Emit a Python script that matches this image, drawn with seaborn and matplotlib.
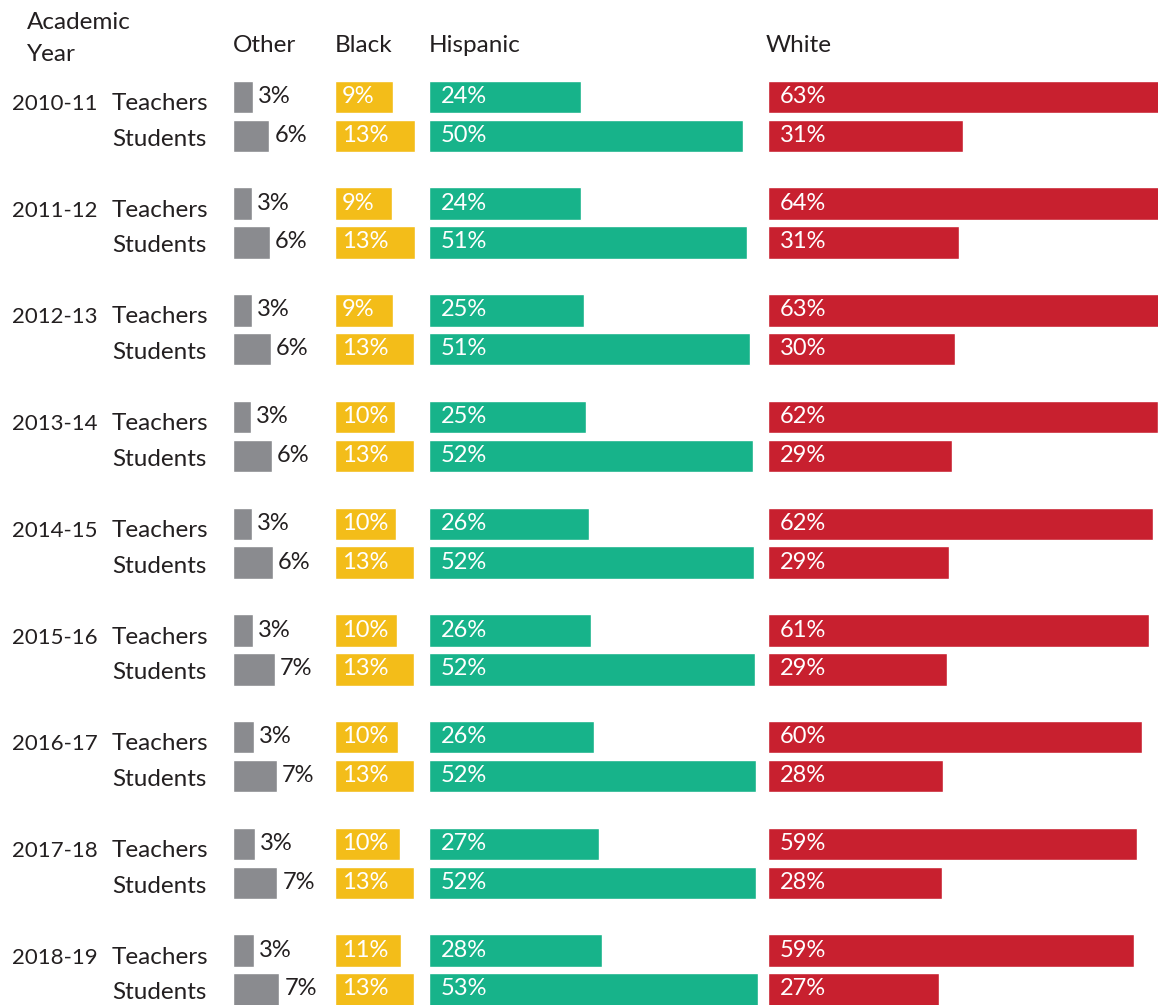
import pandas as pd
import numpy as np
import matplotlib.pyplot as plt
import seaborn as sns

sns.set_style("white")
plt.rcParams["font.family"] = ["Lato", "DejaVu Sans"]

years = ["2010-11", "2011-12", "2012-13", "2013-14", "2014-15",
         "2015-16", "2016-17", "2017-18", "2018-19"]
groups = ["Teachers", "Students"]
races = ["Other", "Black", "Hispanic", "White"]

other_teachers = [3.2, 3.0, 3.0, 2.9, 3.1, 3.2, 3.4, 3.45, 3.4]
other_students = [5.8, 5.9, 6.1, 6.2, 6.4, 6.7, 7.0, 7.1, 7.4]
black_teachers = [9.3, 9.1, 9.3, 9.6, 9.8, 9.9, 10.1, 10.4, 10.6]
black_students = [12.8, 12.8, 12.6, 12.6, 12.6, 12.6, 12.6, 12.6, 12.6]
hispanic_teachers = [24.3, 24.3, 24.8, 25.1, 25.6, 25.9, 26.4, 27.2, 27.6]
hispanic_students = [50.2, 50.9, 51.4, 51.8, 52.0, 52.2, 52.4, 52.3, 52.6]
white_teachers = [63.0, 64.0, 63.0, 62.4, 61.6, 61.0, 59.8, 59.0, 58.6]
white_students = [31.2, 30.6, 29.9, 29.4, 29.0, 28.6, 28.0, 27.8, 27.4]

colors = {"Other": "#8a8b8f", "Black": "#f3bd19",
          "Hispanic": "#17b38a", "White": "#c8202f"}
dark = "#231f20"

series = {
    ("Other", "Teachers"): other_teachers, ("Other", "Students"): other_students,
    ("Black", "Teachers"): black_teachers, ("Black", "Students"): black_students,
    ("Hispanic", "Teachers"): hispanic_teachers, ("Hispanic", "Students"): hispanic_students,
    ("White", "Teachers"): white_teachers, ("White", "Students"): white_students,
}

W, H = 1158, 1005
px_per_pct = 6.25
first_center = 97.0   # pixel centre of the first Teachers bar
year_px = 106.7       # pixels from one year to the next
unit = 38.8           # pixels between Teachers and Students rows
bar_px = 32.4

# row positions: 1 unit = gap between teachers / students rows
year_step = year_px / unit
rows = []
for (race, grp), vals in series.items():
    for i, v in enumerate(vals):
        rows.append({"race": race, "group": grp, "year": years[i],
                     "pos": i * year_step + groups.index(grp), "value": v})
data = pd.DataFrame(rows)

fig = plt.figure(figsize=(W / 100, H / 100), dpi=100)

col_left = {"Other": 233, "Black": 335, "Hispanic": 429, "White": 768}
col_right = {"Other": 335, "Black": 429, "Hispanic": 768, "White": 1158}
label_pad = {"Black": 7, "Hispanic": 12, "White": 12}

ytop = -first_center / unit
ybot = (H - first_center) / unit

for race in races:
    x0, x1 = col_left[race], col_right[race]
    ax = fig.add_axes([x0 / W, 0, (x1 - x0) / W, 1])
    sub = data[data["race"] == race]
    sns.barplot(data=sub, x="value", y="pos", orient="h", native_scale=True,
                color=colors[race], saturation=1, width=bar_px / unit,
                errorbar=None, ax=ax)
    ax.set_xlim(0, (x1 - x0) / px_per_pct)
    ax.set_ylim(ybot, ytop)
    ax.axis("off")
    for _, r in sub.iterrows():
        txt = f"{round(r['value'])}%"
        if race == "Other":
            ax.annotate(txt, (r["value"], r["pos"]), xytext=(5, -6),
                        textcoords="offset pixels", color=dark,
                        fontsize=17, va="baseline", ha="left")
        else:
            ax.annotate(txt, (0, r["pos"]), xytext=(label_pad[race], -6),
                        textcoords="offset pixels", color="white",
                        fontsize=17, va="baseline", ha="left")

# row labels
for i, yr in enumerate(years):
    yc = first_center + i * year_px
    fig.text(12 / W, 1 - (yc + 13) / H, yr, fontsize=16, color=dark, va="baseline")
    fig.text(112 / W, 1 - (yc + 13) / H, "Teachers", fontsize=17.5, color=dark, va="baseline")
    fig.text(112 / W, 1 - (yc + unit + 10) / H, "Students", fontsize=17.5, color=dark, va="baseline")

# headers
fig.text(27 / W, 1 - 29 / H, "Academic", fontsize=17.5, color=dark, va="baseline")
fig.text(27 / W, 1 - 61 / H, "Year", fontsize=17.5, color=dark, va="baseline")
head_x = {"Other": 233, "Black": 335, "Hispanic": 429, "White": 766}
for race in races:
    fig.text(head_x[race] / W, 1 - 52 / H, race, fontsize=17.5, color=dark, va="baseline")

fig.savefig("out.png", dpi=100)
